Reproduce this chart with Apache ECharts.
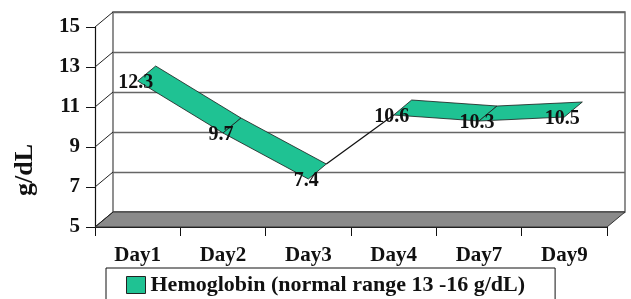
<!DOCTYPE html>
<html>
<head>
<meta charset="utf-8">
<script src="https://cdn.jsdelivr.net/npm/echarts@6/dist/echarts.min.js"></script>
<style>
html,body{margin:0;padding:0;background:#fff;}
#main{width:631px;height:299px;}
</style>
</head>
<body>
<div id="main"></div>
<script>
var days = ['Day1', 'Day2', 'Day3', 'Day4', 'Day7', 'Day9'];
var hemoglobin = [12.3, 9.7, 7.4, 10.6, 10.3, 10.5];
var yTicks = [5, 7, 9, 11, 13, 15];
var seriesName = 'Hemoglobin (normal range 13 -16 g/dL)';

// fake 3d depth (pixels) between front axis plane and back wall
var DX = 18, DY = -15;
var FONT = '"Liberation Serif", "Times New Roman", serif';
var TEAL = '#1fc293';
var thinFrom = 2; // segment Day3 -> Day4 is only a thin line in the original

var myChart = echarts.init(document.getElementById('main'));

var option = {
  animation: false,
  backgroundColor: '#fff',
  grid: [
    {left: 95, top: 27, width: 512, height: 200},
    {left: 95 + DX, top: 27 + DY, width: 512, height: 200,
     show: true, backgroundColor: '#fff', borderColor: '#555', borderWidth: 1.3}
  ],
  xAxis: [
    {
      gridIndex: 0, type: 'category', data: days, boundaryGap: true,
      axisLine: {lineStyle: {color: '#111', width: 1.2}},
      axisTick: {show: true, length: 9, lineStyle: {color: '#111'}},
      axisLabel: {margin: 18, color: '#111', fontFamily: FONT, fontWeight: 'bold', fontSize: 21}
    },
    {gridIndex: 1, type: 'category', data: days, show: false}
  ],
  yAxis: [
    {
      gridIndex: 0, type: 'value', min: 5, max: 15, interval: 2,
      splitLine: {show: false},
      axisLine: {show: true, lineStyle: {color: '#111', width: 1.2}},
      axisTick: {show: true, length: 9, lineStyle: {color: '#111'}},
      axisLabel: {margin: 15, color: '#111', fontFamily: FONT, fontWeight: 'bold', fontSize: 21}
    },
    {
      gridIndex: 1, type: 'value', min: 5, max: 15, interval: 2,
      axisLine: {show: false}, axisTick: {show: false}, axisLabel: {show: false},
      splitLine: {show: true, lineStyle: {color: '#666', width: 1.4}}
    }
  ],
  legend: {
    data: [seriesName],
    left: 106, top: 268,
    borderColor: '#111', borderWidth: 1,
    padding: [6, 30, 12, 20],
    icon: 'rect', itemWidth: 19, itemHeight: 17,
    itemStyle: {borderColor: '#222', borderWidth: 1},
    textStyle: {color: '#111', fontFamily: FONT, fontWeight: 'bold', fontSize: 22}
  },
  graphic: [
    {
      type: 'text', left: 12, top: 144, rotation: Math.PI / 2,
      style: {text: 'g/dL', fill: '#111', font: 'bold 26px ' + FONT}
    }
  ],
  series: [
    {
      // floor + side edges
      type: 'custom', xAxisIndex: 0, yAxisIndex: 0, silent: true, z: 1,
      data: yTicks.map(function (v) { return [0, v]; }),
      renderItem: function (params, api) {
        var cs = params.coordSys;
        var y = api.coord([0, api.value(1)])[1];
        var x = cs.x;
        var kids = [];
        if (params.dataIndex === 0) {
          kids.push({type: 'polygon', shape: {points: [[x, y], [x + cs.width, y], [x + cs.width + DX, y + DY], [x + DX, y + DY]]},
            style: {fill: '#8a8a8a', stroke: '#333', lineWidth: 1}});
        }
        kids.push({type: 'line', shape: {x1: x, y1: y, x2: x + DX, y2: y + DY}, style: {stroke: '#222', lineWidth: 1}});
        return {type: 'group', children: kids};
      }
    },
    {
      name: seriesName,
      type: 'custom', xAxisIndex: 0, yAxisIndex: 0, z: 3,
      itemStyle: {color: TEAL},
      data: hemoglobin.map(function (v, i) { return [i, v]; }),
      renderItem: function (params, api) {
        var i = params.dataIndex;
        var kids = [];
        if (i < hemoglobin.length - 1) {
          var p0 = api.coord([i, hemoglobin[i]]);
          var p1 = api.coord([i + 1, hemoglobin[i + 1]]);
          if (i === thinFrom) {
            kids.push({type: 'line', shape: {x1: p0[0] + DX, y1: p0[1] + DY, x2: p1[0], y2: p1[1]},
              style: {stroke: '#111', lineWidth: 1.2}});
          } else {
            kids.push({type: 'polygon',
              shape: {points: [p0, p1, [p1[0] + DX, p1[1] + DY], [p0[0] + DX, p0[1] + DY]]},
              style: {fill: TEAL, stroke: '#1a1a1a', lineWidth: 0.8}});
          }
        }
        return {type: 'group', children: kids};
      }
    },
    {
      // value labels
      type: 'custom', xAxisIndex: 0, yAxisIndex: 0, silent: true, z: 4,
      data: hemoglobin.map(function (v, i) { return [i, v]; }),
      renderItem: function (params, api) {
        var p = api.coord([api.value(0), api.value(1)]);
        return {type: 'text', x: p[0] - 2, y: p[1] + 2,
          style: {text: String(api.value(1)), fill: '#111', font: 'bold 20px ' + FONT, align: 'center', verticalAlign: 'middle'}};
      }
    }
  ]
};
myChart.setOption(option);
</script>
</body>
</html>
